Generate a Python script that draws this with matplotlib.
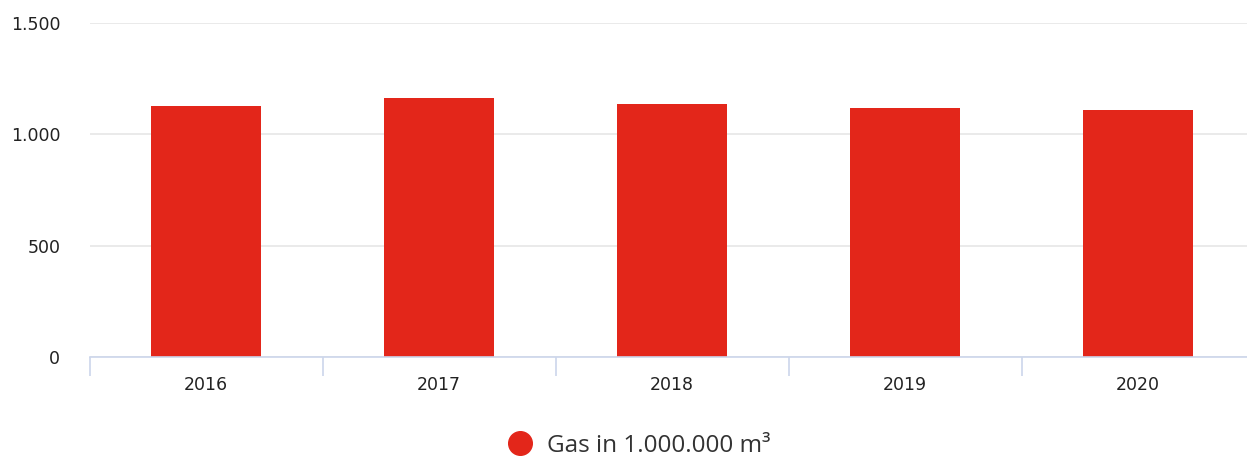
import matplotlib
matplotlib.use("Agg")
import matplotlib.pyplot as plt
from matplotlib.lines import Line2D
from matplotlib.ticker import FuncFormatter

# data
years = ["2016", "2017", "2018", "2019", "2020"]
gas = [1126, 1162, 1135, 1117, 1108]
series_name = "Gas in 1.000.000 m³"
y_ticks = [0, 500, 1000, 1500]

BAR_COLOR = "#e3261a"
AXIS_COLOR = "#ccd6eb"
GRID_COLOR = "#e6e6e6"
TEXT_COLOR = "#222222"

W, H = 1247, 458
fig = plt.figure(figsize=(W / 100, H / 100), dpi=100)
# axes spans past the right edge of the figure, like the reference
left, right, bottom, top = 89.5, 1254.5, 357, 22.7
ax = fig.add_axes([left / W, (H - bottom) / H, (right - left) / W, (bottom - top) / H])

x = list(range(len(years)))
ax.bar(x, gas, width=0.473, color=BAR_COLOR, zorder=3, label=series_name)

ax.set_xlim(-0.5, len(years) - 0.5)
ax.set_ylim(0, 1500)

ax.set_yticks(y_ticks)
ax.yaxis.set_major_formatter(FuncFormatter(lambda v, p: f"{int(v):,}".replace(",", ".")))
ax.grid(axis="y", color=GRID_COLOR, linewidth=1.2, zorder=0)
ax.tick_params(axis="y", length=0, pad=21, labelsize=12.5, labelcolor=TEXT_COLOR)

ax.set_xticks(x)
ax.set_xticklabels(years)
ax.set_xticks([i - 0.5 for i in range(len(years) + 1)], minor=True)
ax.tick_params(axis="x", which="major", length=0, pad=14, labelsize=12.5, labelcolor=TEXT_COLOR)
ax.tick_params(axis="x", which="minor", length=13.7, width=1.2, color=AXIS_COLOR)

for side in ["top", "right", "left"]:
    ax.spines[side].set_visible(False)
ax.spines["bottom"].set_color(AXIS_COLOR)
ax.spines["bottom"].set_linewidth(1.2)
ax.spines["bottom"].set_zorder(4)

handle = Line2D([], [], linestyle="none", marker="o", markersize=17,
                markerfacecolor=BAR_COLOR, markeredgecolor=BAR_COLOR)
fig.legend([handle], [series_name], loc="center", bbox_to_anchor=(633 / W, (H - 446) / H),
           frameon=False, labelcolor="#333333", handletextpad=0.1,
           prop={"family": "Open Sans", "size": 17.5})

fig.savefig("out.png", dpi=100)
